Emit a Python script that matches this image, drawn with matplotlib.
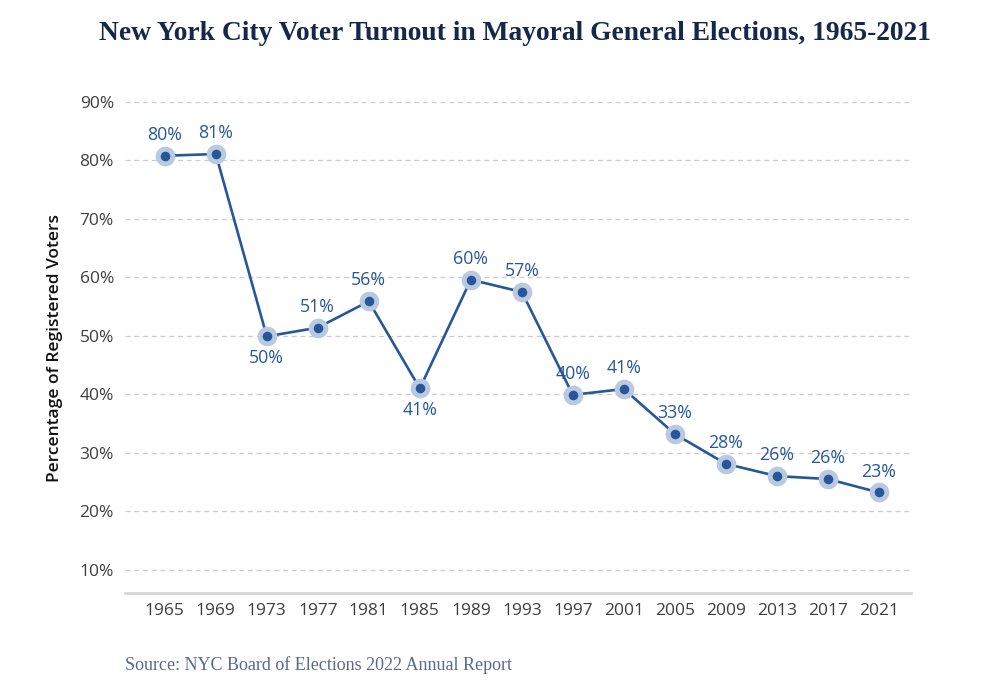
import matplotlib
matplotlib.use("Agg")
import matplotlib.pyplot as plt

years = ["1965", "1969", "1973", "1977", "1981", "1985", "1989", "1993",
         "1997", "2001", "2005", "2009", "2013", "2017", "2021"]
turnout = [80.8, 81.1, 49.9, 51.4, 55.9, 41.0, 59.6, 57.5,
           39.9, 40.9, 33.2, 28.1, 26.0, 25.5, 23.2]
value_labels = ["80%", "81%", "50%", "51%", "56%", "41%", "60%", "57%",
                "40%", "41%", "33%", "28%", "26%", "26%", "23%"]
label_below = ["1973", "1985"]
y_ticks = [10, 20, 30, 40, 50, 60, 70, 80, 90]
y_tick_labels = ["10%", "20%", "30%", "40%", "50%", "60%", "70%", "80%", "90%"]

title = "New York City Voter Turnout in Mayoral General Elections, 1965-2021"
y_title = "Percentage of Registered Voters"
source = "Source: NYC Board of Elections 2022 Annual Report"

line_color = "#27579a"
halo_color = "#b9c9e0"
navy = "#14284b"

fig = plt.figure(figsize=(10, 7), dpi=100)
ax = fig.add_axes([0.125, 1 - 593 / 700, (911 - 125) / 1000, (593 - 102) / 700])

x = list(range(len(years)))
ax.plot(x, turnout, color=line_color, lw=1.9, zorder=3)
ax.scatter(x, turnout, s=200, color=halo_color, zorder=4, linewidths=0)
ax.scatter(x, turnout, s=48, color=line_color, zorder=5, linewidths=0)

for xi, yr, v, lab in zip(x, years, turnout, value_labels):
    if yr in label_below:
        ax.annotate(lab, (xi, v), xytext=(0, -15.5), textcoords="offset points",
                    ha="center", va="center", fontsize=12.8, color=line_color,
                    family="Open Sans", weight="medium")
    else:
        ax.annotate(lab, (xi, v), xytext=(0, 15), textcoords="offset points",
                    ha="center", va="center", fontsize=12.8, color=line_color,
                    family="Open Sans", weight="medium")

ax.set_xlim(-0.78, 14.63)
ax.set_ylim(6, 90)
ax.set_xticks(x)
ax.set_xticklabels(years)
ax.set_yticks(y_ticks)
ax.set_yticklabels(y_tick_labels)
ax.tick_params(axis="both", length=0, labelsize=12.5, labelcolor="#3e3e3e")
ax.tick_params(axis="x", pad=7)
ax.tick_params(axis="y", pad=8)
for lbl in ax.get_xticklabels() + ax.get_yticklabels():
    lbl.set_family("Open Sans")
    lbl.set_weight("medium")

ax.grid(axis="y", color="#cccccc", lw=0.9, ls=(0, (4, 3)))
ax.set_axisbelow(True)
for s in ["top", "right", "left"]:
    ax.spines[s].set_visible(False)
ax.spines["bottom"].set_color("#d6d6d6")
ax.spines["bottom"].set_linewidth(2)

ax.set_ylabel(y_title, fontsize=12.5, color="#111111", family="Open Sans",
              weight="semibold", labelpad=12)

fig.text(0.515, 1 - 33 / 700, title, ha="center", va="center",
         fontsize=19.8, weight="bold", color=navy, family="Liberation Serif")
fig.text(0.125, 1 - 665 / 700, source, ha="left", va="center",
         fontsize=13, color="#5a6a88", family="Liberation Serif")

fig.savefig("out.png", dpi=100, facecolor="white")
